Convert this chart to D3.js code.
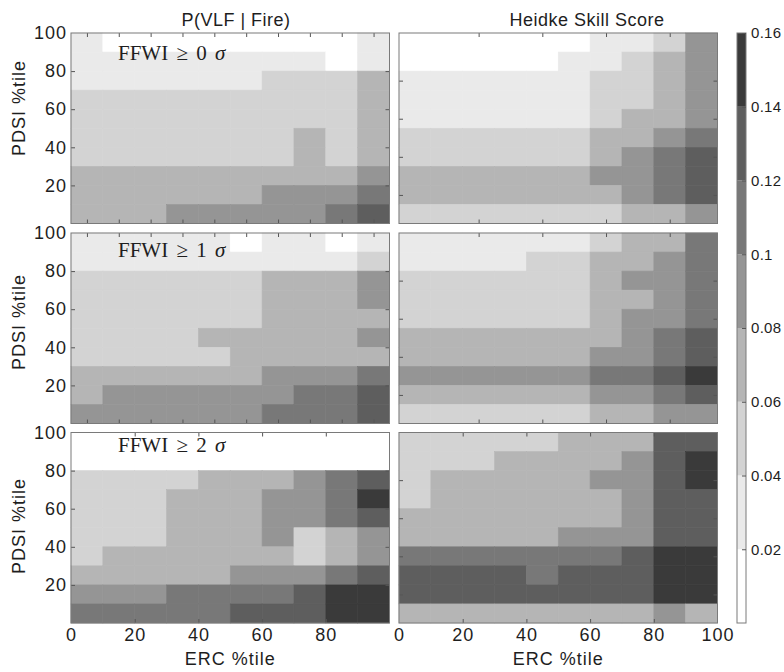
<!DOCTYPE html>
<html>
<head>
<meta charset="utf-8">
<script src="https://cdn.jsdelivr.net/npm/d3@7"></script>
<style>
    body { margin: 0; background: #fff; }
    svg { font-family: 'Liberation Sans', Arial, sans-serif; }
</style>
</head>
<body>
<svg id="chart"></svg>
<script>
// bins (lower edges); rows go from the top of each panel to the bottom
const ercBins = [0, 10, 20, 30, 40, 50, 60, 70, 80, 90]
const pdsiBins = [90, 80, 70, 60, 50, 40, 30, 20, 10, 0]
const binWidth = 10

const legendDomain = [0, 0.16]
const legendTicks = [0.02, 0.04, 0.06, 0.08, 0.1, 0.12, 0.14, 0.16]
const greys = ['#ffffff', '#eaeaea', '#d3d3d3', '#b5b5b5', '#959595', '#787878', '#5e5e5e', '#3a3a3a']

// P(VLF | Fire), FFWI >= 0, 1, 2 sigma
const vlfSigma0 = [
    [.03, .01, .01, .01, .01, .01, .01, .01, .01, .03],
    [.03, .03, .03, .03, .03, .03, .03, .03, .01, .03],
    [.03, .03, .03, .03, .03, .03, .05, .05, .05, .07],
    [.05, .05, .05, .05, .05, .05, .05, .05, .05, .07],
    [.05, .05, .05, .05, .05, .05, .05, .05, .05, .07],
    [.05, .05, .05, .05, .05, .05, .05, .07, .05, .07],
    [.05, .05, .05, .05, .05, .05, .05, .07, .05, .07],
    [.07, .07, .07, .07, .07, .07, .07, .07, .07, .09],
    [.07, .07, .07, .07, .07, .07, .09, .09, .09, .11],
    [.07, .07, .07, .09, .09, .09, .09, .09, .11, .13]
]
const vlfSigma1 = [
    [.03, .03, .03, .03, .03, .01, .03, .03, .01, .03],
    [.03, .03, .03, .03, .03, .03, .03, .03, .03, .05],
    [.05, .05, .05, .05, .05, .05, .07, .07, .07, .09],
    [.05, .05, .05, .05, .05, .05, .07, .07, .07, .09],
    [.05, .05, .05, .05, .05, .05, .07, .07, .07, .07],
    [.05, .05, .05, .05, .07, .07, .07, .07, .07, .09],
    [.05, .05, .05, .05, .05, .07, .07, .07, .07, .07],
    [.07, .07, .07, .07, .07, .07, .09, .09, .09, .11],
    [.07, .09, .09, .09, .09, .09, .09, .11, .11, .13],
    [.09, .09, .09, .09, .09, .09, .11, .11, .11, .13]
]
const vlfSigma2 = [
    [.01, .01, .01, .01, .01, .01, .01, .01, .01, .01],
    [.01, .01, .01, .01, .01, .01, .01, .01, .01, .01],
    [.05, .05, .05, .05, .07, .07, .07, .09, .11, .13],
    [.05, .05, .05, .07, .07, .07, .09, .09, .11, .15],
    [.05, .05, .05, .07, .07, .07, .09, .09, .11, .13],
    [.05, .05, .05, .07, .07, .07, .09, .05, .07, .09],
    [.05, .07, .07, .07, .07, .07, .07, .05, .07, .09],
    [.07, .07, .07, .07, .07, .09, .09, .09, .11, .13],
    [.09, .09, .09, .11, .11, .11, .11, .13, .15, .15],
    [.11, .11, .11, .11, .11, .13, .13, .13, .15, .15]
]

// Heidke skill score, FFWI >= 0, 1, 2 sigma
const hssSigma0 = [
    [.01, .01, .01, .01, .01, .01, .03, .03, .05, .09],
    [.01, .01, .01, .01, .01, .03, .03, .05, .07, .09],
    [.03, .03, .03, .03, .03, .03, .05, .05, .07, .09],
    [.03, .03, .03, .03, .03, .03, .05, .05, .07, .09],
    [.03, .03, .03, .03, .03, .03, .05, .07, .07, .09],
    [.05, .05, .05, .05, .05, .05, .07, .07, .09, .11],
    [.05, .05, .05, .05, .05, .05, .07, .09, .11, .13],
    [.07, .07, .07, .07, .07, .07, .09, .09, .11, .13],
    [.07, .07, .07, .07, .07, .07, .07, .09, .11, .13],
    [.05, .05, .05, .05, .05, .05, .05, .07, .07, .09]
]
const hssSigma1 = [
    [.03, .03, .03, .03, .03, .03, .05, .07, .07, .11],
    [.03, .03, .03, .03, .05, .05, .07, .07, .09, .11],
    [.05, .05, .05, .05, .05, .05, .07, .09, .09, .11],
    [.05, .05, .05, .05, .05, .05, .07, .07, .09, .11],
    [.05, .05, .05, .05, .05, .05, .07, .09, .09, .11],
    [.07, .07, .07, .07, .07, .07, .07, .09, .11, .13],
    [.07, .07, .07, .07, .07, .07, .09, .09, .11, .13],
    [.09, .09, .09, .09, .09, .09, .11, .11, .13, .15],
    [.07, .07, .07, .07, .07, .07, .09, .09, .11, .13],
    [.05, .05, .05, .05, .05, .05, .07, .07, .09, .09]
]
const hssSigma2 = [
    [.05, .05, .05, .05, .05, .07, .07, .07, .13, .13],
    [.05, .05, .05, .07, .07, .07, .07, .09, .13, .15],
    [.05, .07, .07, .07, .07, .07, .09, .09, .13, .15],
    [.05, .07, .07, .07, .07, .07, .07, .09, .13, .13],
    [.07, .07, .07, .07, .07, .07, .07, .09, .13, .13],
    [.07, .07, .07, .07, .07, .09, .09, .09, .13, .13],
    [.11, .11, .11, .11, .11, .11, .11, .13, .15, .15],
    [.13, .13, .13, .13, .11, .13, .13, .13, .15, .15],
    [.13, .13, .13, .13, .13, .13, .13, .13, .15, .15],
    [.07, .07, .07, .07, .07, .07, .07, .07, .09, .07]
]

const titles = ['P(VLF | Fire)', 'Heidke Skill Score']
const sigmas = ['0', '1', '2']
const xLabel = 'ERC %tile'
const yLabel = 'PDSI %tile'

const xTickLabels = [[0, 20, 40, 60, 80], [0, 20, 40, 60, 80, 100]]
const yTickLabels = [20, 40, 60, 80, 100]
const xTickMarks = [[5, 15, 25, 35, 45, 55, 65, 75, 85, 95], [25, 45, 65, 85]]
const xTickMarksBottom = [[20, 40, 60, 80], [20, 40, 60, 80]]
const yTickMarks = [[20, 40, 60, 80], [15, 35, 55, 75]]

// layout
const svgWidth = 784
const svgHeight = 672
const panelLeft = [71, 399]
const panelTop = [33, 233, 432.5]
const panelWidth = 318.5
const panelHeight = 190.5
const titleX = [236, 587]
const yLabelY = [108, 322, 526]
const sigmaBaseline = [27, 24, 19]
const ink = '#1e1e1e'
const frame = '#7a7a7a'

const svg = d3.select('#chart')
    .attr('width', svgWidth)
    .attr('height', svgHeight)

const colour = d3.scaleQuantize()
    .domain(legendDomain)
    .range(greys)

const x = d3.scaleLinear().domain([0, 100]).range([0, panelWidth])
const y = d3.scaleLinear().domain([0, 100]).range([panelHeight, 0])

// small inward ticks, no labels
const tickMarks = (g, axis, values) => {
    g.call(axis.tickValues(values).tickSizeInner(-4).tickSizeOuter(0).tickFormat(''))
    g.select('.domain').remove()
    g.selectAll('line').attr('stroke', '#555')
}

const plotPanel = (values, col, row) => {
    const panel = svg.append('g')
        .attr('transform', `translate(${[panelLeft[col], panelTop[row]]})`)

    const cells = values.flatMap((r, i) => r.map((v, j) => ({ erc: ercBins[j], pdsi: pdsiBins[i], value: v })))

    panel.append('g')
        .selectAll('rect')
        .data(cells)
        .join('rect')
        .attr('x', d => x(d.erc))
        .attr('y', d => y(d.pdsi + binWidth))
        .attr('width', d => x(d.erc + binWidth) - x(d.erc))
        .attr('height', d => y(d.pdsi) - y(d.pdsi + binWidth))
        .attr('fill', d => colour(d.value))
        .attr('stroke', d => colour(d.value))
        .attr('stroke-width', 0.6)

    const xMarks = row === 2 ? xTickMarksBottom[col] : xTickMarks[col]
    panel.append('g').call(tickMarks, d3.axisTop(x), xMarks)
    panel.append('g')
        .attr('transform', `translate(0, ${panelHeight})`)
        .call(tickMarks, d3.axisBottom(x), xMarks)
    panel.append('g').call(tickMarks, d3.axisLeft(y), yTickMarks[col])
    panel.append('g')
        .attr('transform', `translate(${panelWidth}, 0)`)
        .call(tickMarks, d3.axisRight(y), yTickMarks[col])

    panel.append('rect')
        .attr('width', panelWidth)
        .attr('height', panelHeight)
        .attr('fill', 'none')
        .attr('stroke', frame)

    if (col === 0) {
        const left = panel.append('g')
            .call(d3.axisLeft(y).tickValues(yTickLabels).tickSize(0).tickPadding(4))
            .attr('font-size', 18)
            .attr('font-family', null)
            .attr('letter-spacing', 1)
        left.select('.domain').remove()
        left.selectAll('text').attr('fill', ink)

        svg.append('text')
            .attr('transform', `translate(${[25, yLabelY[row]]}) rotate(-90)`)
            .attr('text-anchor', 'middle')
            .attr('font-size', 18)
            .attr('letter-spacing', 1)
            .attr('fill', ink)
            .text(yLabel)

        const label = panel.append('text')
            .attr('x', 47)
            .attr('y', sigmaBaseline[row])
            .attr('font-family', '"Liberation Serif", "DejaVu Serif", serif')
            .attr('font-size', 21)
            .attr('word-spacing', 3)
            .attr('fill', ink)
        label.append('tspan').text('FFWI ≥ ' + sigmas[row] + ' ')
        label.append('tspan').attr('font-style', 'italic').text('σ')
    }

    if (row === 2) {
        const bottom = panel.append('g')
            .attr('transform', `translate(0, ${panelHeight})`)
            .call(d3.axisBottom(x).tickValues(xTickLabels[col]).tickSize(0).tickPadding(5))
            .attr('font-size', 18)
            .attr('font-family', null)
            .attr('letter-spacing', 1)
        bottom.select('.domain').remove()
        bottom.selectAll('text').attr('fill', ink)

        panel.append('text')
            .attr('x', panelWidth / 2)
            .attr('y', 665 - panelTop[row])
            .attr('text-anchor', 'middle')
            .attr('font-size', 18)
            .attr('letter-spacing', 1)
            .attr('fill', ink)
            .text(xLabel)
    }

    if (row === 0) {
        svg.append('text')
            .attr('x', titleX[col])
            .attr('y', 26)
            .attr('text-anchor', 'middle')
            .attr('font-size', 18)
            .attr('letter-spacing', 0.5)
            .attr('fill', ink)
            .text(titles[col])
    }
}

const plotColourbar = () => {
    const barX = 737
    const barWidth = 9
    const cbY = d3.scaleLinear()
        .domain(legendDomain)
        .range([panelTop[2] + panelHeight, panelTop[0]])

    svg.append('g')
        .selectAll('rect')
        .data(greys)
        .join('rect')
        .attr('x', barX)
        .attr('width', barWidth)
        .attr('y', d => cbY(colour.invertExtent(d)[1]))
        .attr('height', d => cbY(colour.invertExtent(d)[0]) - cbY(colour.invertExtent(d)[1]))
        .attr('fill', d => d)

    svg.append('rect')
        .attr('x', barX)
        .attr('y', panelTop[0])
        .attr('width', barWidth)
        .attr('height', cbY(0) - cbY(0.16))
        .attr('fill', 'none')
        .attr('stroke', frame)

    const axis = svg.append('g')
        .attr('transform', `translate(${barX + barWidth}, 0)`)
        .call(
            d3.axisRight(cbY)
                .tickValues(legendTicks)
                .tickFormat(d3.format('~g'))
                .tickSizeInner(-4)
                .tickSizeOuter(0)
                .tickPadding(5)
        )
        .attr('font-size', 15)
        .attr('font-family', null)
        .attr('letter-spacing', 0.3)
    axis.select('.domain').remove()
    axis.selectAll('line').attr('stroke', '#555')
    axis.selectAll('text').attr('fill', ink)
}

const panels = [
    [vlfSigma0, hssSigma0],
    [vlfSigma1, hssSigma1],
    [vlfSigma2, hssSigma2]
]
panels.forEach((pair, row) => pair.forEach((values, col) => plotPanel(values, col, row)))
plotColourbar()
</script>
</body>
</html>
